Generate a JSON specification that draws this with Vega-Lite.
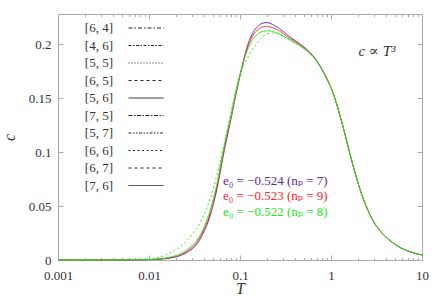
{
  "$schema": "https://vega.github.io/schema/vega-lite/v6.json",
  "width": 364,
  "height": 246,
  "autosize": {"type": "none"},
  "padding": {"left": 58, "top": 14, "right": 14, "bottom": 46},
  "config": {
    "view": {"stroke": "#aaaaaa", "strokeWidth": 1},
    "axis": {
      "domain": false, "grid": false,
      "tickColor": "#aaaaaa",
      "labelFont": "Liberation Serif, DejaVu Serif, serif", "labelFontSize": 13, "labelColor": "#333333",
      "titleFont": "Liberation Serif, DejaVu Serif, serif", "titleFontStyle": "italic", "titleFontWeight": "normal",
      "titleFontSize": 16, "titleColor": "#333333"
    },
    "legend": {
      "labelFont": "Liberation Serif, DejaVu Serif, serif", "labelFontSize": 13, "labelColor": "#333333"
    }
  },
  "datasets": {
    "curves": [
      {"s": "purple", "a": "[7, 6]", "T": 0.001, "c": 0},
      {"s": "purple", "a": "[7, 6]", "T": 0.003, "c": 0},
      {"s": "purple", "a": "[7, 6]", "T": 0.006, "c": 0.0001},
      {"s": "purple", "a": "[7, 6]", "T": 0.01, "c": 0.0003},
      {"s": "purple", "a": "[7, 6]", "T": 0.0132, "c": 0.0008},
      {"s": "purple", "a": "[7, 6]", "T": 0.0175, "c": 0.002},
      {"s": "purple", "a": "[7, 6]", "T": 0.0219, "c": 0.004},
      {"s": "purple", "a": "[7, 6]", "T": 0.027, "c": 0.0078},
      {"s": "purple", "a": "[7, 6]", "T": 0.0334, "c": 0.0145},
      {"s": "purple", "a": "[7, 6]", "T": 0.039, "c": 0.024},
      {"s": "purple", "a": "[7, 6]", "T": 0.0449, "c": 0.036},
      {"s": "purple", "a": "[7, 6]", "T": 0.05, "c": 0.049},
      {"s": "purple", "a": "[7, 6]", "T": 0.0555, "c": 0.065},
      {"s": "purple", "a": "[7, 6]", "T": 0.0667, "c": 0.1},
      {"s": "purple", "a": "[7, 6]", "T": 0.081, "c": 0.134},
      {"s": "purple", "a": "[7, 6]", "T": 0.09, "c": 0.153},
      {"s": "purple", "a": "[7, 6]", "T": 0.104, "c": 0.177},
      {"s": "purple", "a": "[7, 6]", "T": 0.1135, "c": 0.19},
      {"s": "purple", "a": "[7, 6]", "T": 0.125, "c": 0.202},
      {"s": "purple", "a": "[7, 6]", "T": 0.14, "c": 0.211},
      {"s": "purple", "a": "[7, 6]", "T": 0.16, "c": 0.217},
      {"s": "purple", "a": "[7, 6]", "T": 0.18, "c": 0.2195},
      {"s": "purple", "a": "[7, 6]", "T": 0.2, "c": 0.2198},
      {"s": "purple", "a": "[7, 6]", "T": 0.23, "c": 0.218},
      {"s": "purple", "a": "[7, 6]", "T": 0.27, "c": 0.2145},
      {"s": "purple", "a": "[7, 6]", "T": 0.3, "c": 0.2115},
      {"s": "purple", "a": "[7, 6]", "T": 0.354, "c": 0.2065},
      {"s": "purple", "a": "[7, 6]", "T": 0.45, "c": 0.2005},
      {"s": "purple", "a": "[7, 6]", "T": 0.55, "c": 0.1945},
      {"s": "purple", "a": "[7, 6]", "T": 0.65, "c": 0.188},
      {"s": "purple", "a": "[7, 6]", "T": 0.822, "c": 0.1745},
      {"s": "purple", "a": "[7, 6]", "T": 1.06, "c": 0.154},
      {"s": "purple", "a": "[7, 6]", "T": 1.36, "c": 0.123},
      {"s": "purple", "a": "[7, 6]", "T": 1.69, "c": 0.092},
      {"s": "purple", "a": "[7, 6]", "T": 2.17, "c": 0.061},
      {"s": "purple", "a": "[7, 6]", "T": 2.92, "c": 0.036},
      {"s": "purple", "a": "[7, 6]", "T": 3.5, "c": 0.0265},
      {"s": "purple", "a": "[7, 6]", "T": 4.45, "c": 0.018},
      {"s": "purple", "a": "[7, 6]", "T": 5.5, "c": 0.0125},
      {"s": "purple", "a": "[7, 6]", "T": 6.79, "c": 0.0088},
      {"s": "purple", "a": "[7, 6]", "T": 8.3, "c": 0.0063},
      {"s": "purple", "a": "[7, 6]", "T": 10, "c": 0.0046},

      {"s": "red", "a": "[7, 6]", "T": 0.001, "c": 0},
      {"s": "red", "a": "[7, 6]", "T": 0.003, "c": 0},
      {"s": "red", "a": "[7, 6]", "T": 0.006, "c": 0.0001},
      {"s": "red", "a": "[7, 6]", "T": 0.01, "c": 0.0004},
      {"s": "red", "a": "[7, 6]", "T": 0.0132, "c": 0.0009},
      {"s": "red", "a": "[7, 6]", "T": 0.0175, "c": 0.0024},
      {"s": "red", "a": "[7, 6]", "T": 0.0219, "c": 0.0047},
      {"s": "red", "a": "[7, 6]", "T": 0.027, "c": 0.009},
      {"s": "red", "a": "[7, 6]", "T": 0.0334, "c": 0.016},
      {"s": "red", "a": "[7, 6]", "T": 0.039, "c": 0.026},
      {"s": "red", "a": "[7, 6]", "T": 0.0449, "c": 0.038},
      {"s": "red", "a": "[7, 6]", "T": 0.05, "c": 0.051},
      {"s": "red", "a": "[7, 6]", "T": 0.0555, "c": 0.067},
      {"s": "red", "a": "[7, 6]", "T": 0.0667, "c": 0.102},
      {"s": "red", "a": "[7, 6]", "T": 0.081, "c": 0.135},
      {"s": "red", "a": "[7, 6]", "T": 0.09, "c": 0.154},
      {"s": "red", "a": "[7, 6]", "T": 0.104, "c": 0.177},
      {"s": "red", "a": "[7, 6]", "T": 0.1135, "c": 0.189},
      {"s": "red", "a": "[7, 6]", "T": 0.125, "c": 0.2},
      {"s": "red", "a": "[7, 6]", "T": 0.14, "c": 0.2085},
      {"s": "red", "a": "[7, 6]", "T": 0.16, "c": 0.2138},
      {"s": "red", "a": "[7, 6]", "T": 0.18, "c": 0.216},
      {"s": "red", "a": "[7, 6]", "T": 0.2, "c": 0.2163},
      {"s": "red", "a": "[7, 6]", "T": 0.23, "c": 0.215},
      {"s": "red", "a": "[7, 6]", "T": 0.27, "c": 0.2122},
      {"s": "red", "a": "[7, 6]", "T": 0.3, "c": 0.2095},
      {"s": "red", "a": "[7, 6]", "T": 0.354, "c": 0.2052},
      {"s": "red", "a": "[7, 6]", "T": 0.45, "c": 0.1995},
      {"s": "red", "a": "[7, 6]", "T": 0.55, "c": 0.194},
      {"s": "red", "a": "[7, 6]", "T": 0.65, "c": 0.1877},
      {"s": "red", "a": "[7, 6]", "T": 0.822, "c": 0.1743},
      {"s": "red", "a": "[7, 6]", "T": 1.06, "c": 0.154},
      {"s": "red", "a": "[7, 6]", "T": 1.36, "c": 0.123},
      {"s": "red", "a": "[7, 6]", "T": 1.69, "c": 0.092},
      {"s": "red", "a": "[7, 6]", "T": 2.17, "c": 0.061},
      {"s": "red", "a": "[7, 6]", "T": 2.92, "c": 0.036},
      {"s": "red", "a": "[7, 6]", "T": 3.5, "c": 0.0265},
      {"s": "red", "a": "[7, 6]", "T": 4.45, "c": 0.018},
      {"s": "red", "a": "[7, 6]", "T": 5.5, "c": 0.0125},
      {"s": "red", "a": "[7, 6]", "T": 6.79, "c": 0.0088},
      {"s": "red", "a": "[7, 6]", "T": 8.3, "c": 0.0063},
      {"s": "red", "a": "[7, 6]", "T": 10, "c": 0.0046},

      {"s": "greendot", "a": "[6, 6]", "T": 0.001, "c": 0},
      {"s": "greendot", "a": "[6, 6]", "T": 0.003, "c": 0},
      {"s": "greendot", "a": "[6, 6]", "T": 0.006, "c": 0.0002},
      {"s": "greendot", "a": "[6, 6]", "T": 0.01, "c": 0.001},
      {"s": "greendot", "a": "[6, 6]", "T": 0.0135, "c": 0.003},
      {"s": "greendot", "a": "[6, 6]", "T": 0.017, "c": 0.0065},
      {"s": "greendot", "a": "[6, 6]", "T": 0.0238, "c": 0.0145},
      {"s": "greendot", "a": "[6, 6]", "T": 0.03, "c": 0.024},
      {"s": "greendot", "a": "[6, 6]", "T": 0.0362, "c": 0.034},
      {"s": "greendot", "a": "[6, 6]", "T": 0.043, "c": 0.048},
      {"s": "greendot", "a": "[6, 6]", "T": 0.0508, "c": 0.066},
      {"s": "greendot", "a": "[6, 6]", "T": 0.06, "c": 0.09},
      {"s": "greendot", "a": "[6, 6]", "T": 0.07, "c": 0.115},
      {"s": "greendot", "a": "[6, 6]", "T": 0.08, "c": 0.138},
      {"s": "greendot", "a": "[6, 6]", "T": 0.09, "c": 0.157},
      {"s": "greendot", "a": "[6, 6]", "T": 0.1, "c": 0.172},
      {"s": "greendot", "a": "[6, 6]", "T": 0.119, "c": 0.186},
      {"s": "greendot", "a": "[6, 6]", "T": 0.152, "c": 0.2},
      {"s": "greendot", "a": "[6, 6]", "T": 0.196, "c": 0.2092},
      {"s": "greendot", "a": "[6, 6]", "T": 0.23, "c": 0.2102},
      {"s": "greendot", "a": "[6, 6]", "T": 0.28, "c": 0.2082},
      {"s": "greendot", "a": "[6, 6]", "T": 0.354, "c": 0.2035},
      {"s": "greendot", "a": "[6, 6]", "T": 0.45, "c": 0.1985},
      {"s": "greendot", "a": "[6, 6]", "T": 0.55, "c": 0.1932},
      {"s": "greendot", "a": "[6, 6]", "T": 0.65, "c": 0.1872},
      {"s": "greendot", "a": "[6, 6]", "T": 0.822, "c": 0.174},
      {"s": "greendot", "a": "[6, 6]", "T": 1.06, "c": 0.1538},
      {"s": "greendot", "a": "[6, 6]", "T": 1.36, "c": 0.123},
      {"s": "greendot", "a": "[6, 6]", "T": 1.69, "c": 0.092},
      {"s": "greendot", "a": "[6, 6]", "T": 2.17, "c": 0.061},
      {"s": "greendot", "a": "[6, 6]", "T": 2.92, "c": 0.036},
      {"s": "greendot", "a": "[6, 6]", "T": 3.5, "c": 0.0265},
      {"s": "greendot", "a": "[6, 6]", "T": 4.45, "c": 0.018},
      {"s": "greendot", "a": "[6, 6]", "T": 5.5, "c": 0.0125},
      {"s": "greendot", "a": "[6, 6]", "T": 6.79, "c": 0.0088},
      {"s": "greendot", "a": "[6, 6]", "T": 8.3, "c": 0.0063},
      {"s": "greendot", "a": "[6, 6]", "T": 10, "c": 0.0046},

      {"s": "green", "a": "[7, 6]", "T": 0.001, "c": 0},
      {"s": "green", "a": "[7, 6]", "T": 0.003, "c": 0},
      {"s": "green", "a": "[7, 6]", "T": 0.006, "c": 0.0001},
      {"s": "green", "a": "[7, 6]", "T": 0.01, "c": 0.0005},
      {"s": "green", "a": "[7, 6]", "T": 0.0135, "c": 0.0012},
      {"s": "green", "a": "[7, 6]", "T": 0.0175, "c": 0.003},
      {"s": "green", "a": "[7, 6]", "T": 0.0219, "c": 0.0055},
      {"s": "green", "a": "[7, 6]", "T": 0.027, "c": 0.0105},
      {"s": "green", "a": "[7, 6]", "T": 0.0334, "c": 0.018},
      {"s": "green", "a": "[7, 6]", "T": 0.039, "c": 0.028},
      {"s": "green", "a": "[7, 6]", "T": 0.0449, "c": 0.041},
      {"s": "green", "a": "[7, 6]", "T": 0.05, "c": 0.054},
      {"s": "green", "a": "[7, 6]", "T": 0.0555, "c": 0.07},
      {"s": "green", "a": "[7, 6]", "T": 0.0667, "c": 0.105},
      {"s": "green", "a": "[7, 6]", "T": 0.081, "c": 0.137},
      {"s": "green", "a": "[7, 6]", "T": 0.09, "c": 0.155},
      {"s": "green", "a": "[7, 6]", "T": 0.104, "c": 0.177},
      {"s": "green", "a": "[7, 6]", "T": 0.1135, "c": 0.188},
      {"s": "green", "a": "[7, 6]", "T": 0.125, "c": 0.1975},
      {"s": "green", "a": "[7, 6]", "T": 0.14, "c": 0.205},
      {"s": "green", "a": "[7, 6]", "T": 0.16, "c": 0.2098},
      {"s": "green", "a": "[7, 6]", "T": 0.18, "c": 0.2118},
      {"s": "green", "a": "[7, 6]", "T": 0.2, "c": 0.2123},
      {"s": "green", "a": "[7, 6]", "T": 0.23, "c": 0.2115},
      {"s": "green", "a": "[7, 6]", "T": 0.27, "c": 0.2093},
      {"s": "green", "a": "[7, 6]", "T": 0.3, "c": 0.2072},
      {"s": "green", "a": "[7, 6]", "T": 0.354, "c": 0.2038},
      {"s": "green", "a": "[7, 6]", "T": 0.45, "c": 0.1985},
      {"s": "green", "a": "[7, 6]", "T": 0.55, "c": 0.1932},
      {"s": "green", "a": "[7, 6]", "T": 0.65, "c": 0.1872},
      {"s": "green", "a": "[7, 6]", "T": 0.822, "c": 0.174},
      {"s": "green", "a": "[7, 6]", "T": 1.06, "c": 0.1538},
      {"s": "green", "a": "[7, 6]", "T": 1.36, "c": 0.123},
      {"s": "green", "a": "[7, 6]", "T": 1.69, "c": 0.092},
      {"s": "green", "a": "[7, 6]", "T": 2.17, "c": 0.061},
      {"s": "green", "a": "[7, 6]", "T": 2.92, "c": 0.036},
      {"s": "green", "a": "[7, 6]", "T": 3.5, "c": 0.0265},
      {"s": "green", "a": "[7, 6]", "T": 4.45, "c": 0.018},
      {"s": "green", "a": "[7, 6]", "T": 5.5, "c": 0.0125},
      {"s": "green", "a": "[7, 6]", "T": 6.79, "c": 0.0088},
      {"s": "green", "a": "[7, 6]", "T": 8.3, "c": 0.0063},
      {"s": "green", "a": "[7, 6]", "T": 10, "c": 0.0046}
    ],
    "notes": [
      {"T": 0.065, "c": 0.0735, "s": "purple", "label": "e₀ = −0.524 (nₚ = 7)"},
      {"T": 0.065, "c": 0.0595, "s": "red", "label": "e₀ = −0.523 (nₚ = 9)"},
      {"T": 0.065, "c": 0.0445, "s": "green", "label": "e₀ = −0.522 (nₚ = 8)"}
    ],
    "law": [
      {"T": 3.2, "c": 0.194, "label": "c ∝ T³"}
    ]
  },
  "layer": [
    {
      "data": {"name": "curves"},
      "mark": {"type": "line", "interpolate": "monotone"},
      "encoding": {
        "x": {
          "field": "T", "type": "quantitative",
          "scale": {"type": "log", "domain": [0.001, 10], "nice": false},
          "axis": {
            "orient": "bottom", "title": "T",
            "values": [0.001,0.002,0.003,0.004,0.005,0.006,0.007,0.008,0.009,0.01,0.02,0.03,0.04,0.05,0.06,0.07,0.08,0.09,0.1,0.2,0.3,0.4,0.5,0.6,0.7,0.8,0.9,1,2,3,4,5,6,7,8,9,10],
            "labelExpr": "abs(log(datum.value)/LN10 - round(log(datum.value)/LN10)) < 1e-6 ? format(datum.value, '~g') : ''",
            "tickSize": {"condition": {"test": "abs(log(datum.value)/LN10 - round(log(datum.value)/LN10)) < 1e-6", "value": -5}, "value": -2.5},
            "labelPadding": 14, "labelFlush": false, "labelOverlap": false,
            "titleY": 33, "titleBaseline": "alphabetic"
          }
        },
        "y": {
          "field": "c", "type": "quantitative",
          "scale": {"domain": [0, 0.2278], "nice": false, "zero": true},
          "axis": {
            "orient": "left", "title": "c",
            "values": [0, 0.05, 0.1, 0.15, 0.2],
            "labelExpr": "format(datum.value, '~g')",
            "tickSize": -5, "labelPadding": 12, "titlePadding": 11
          }
        },
        "color": {
          "field": "s", "type": "nominal",
          "scale": {"domain": ["purple", "red", "greendot", "green"], "range": ["#5a2a9e", "#ff2222", "#33ee22", "#22e622"]},
          "legend": null
        },
        "strokeDash": {
          "field": "a", "type": "nominal", "title": null,
          "scale": {
            "domain": ["[6, 4]", "[4, 6]", "[5, 5]", "[6, 5]", "[5, 6]", "[7, 5]", "[5, 7]", "[6, 6]", "[6, 7]", "[7, 6]"],
            "range": [[4,2,1.5,2], [3,1.5,1.5,1.5], [1,2], [3,3], [1,0], [4,1.5,1.5,1.5], [3,1.5,1.5,1.5,1.5,1.5], [2,2.5], [3,3], [1,0]]
          },
          "legend": {
            "orient": "none", "legendX": 81.5, "legendY": 7.5,
            "symbolType": "M -3.5 0 L 3.5 0", "symbolSize": 100, "symbolStrokeColor": "#222222",
            "labelAlign": "right", "labelOffset": -39.5, "rowPadding": 3.5, "padding": 0
          }
        },
        "strokeWidth": {
          "field": "a", "type": "nominal", "title": null,
          "scale": {
            "domain": ["[6, 4]", "[4, 6]", "[5, 5]", "[6, 5]", "[5, 6]", "[7, 5]", "[5, 7]", "[6, 6]", "[6, 7]", "[7, 6]"],
            "range": [1, 1, 1, 1, 1, 2, 2, 2, 2, 2]
          }
        }
      }
    },
    {
      "data": {"name": "notes"},
      "mark": {"type": "text", "align": "left", "baseline": "middle", "font": "Liberation Serif, DejaVu Serif, serif", "fontSize": 13},
      "encoding": {
        "x": {"field": "T", "type": "quantitative", "axis": null},
        "y": {"field": "c", "type": "quantitative", "axis": null},
        "text": {"field": "label"},
        "color": {"field": "s", "type": "nominal", "legend": null}
      }
    },
    {
      "data": {"name": "law"},
      "mark": {"type": "text", "align": "center", "baseline": "middle", "font": "Liberation Serif, DejaVu Serif, serif", "fontSize": 15, "fontStyle": "italic", "color": "#333333"},
      "encoding": {
        "x": {"field": "T", "type": "quantitative",
          "axis": {"orient": "top", "title": null, "labels": false,
            "values": [0.001,0.002,0.003,0.004,0.005,0.006,0.007,0.008,0.009,0.01,0.02,0.03,0.04,0.05,0.06,0.07,0.08,0.09,0.1,0.2,0.3,0.4,0.5,0.6,0.7,0.8,0.9,1,2,3,4,5,6,7,8,9,10],
            "tickSize": {"condition": {"test": "abs(log(datum.value)/LN10 - round(log(datum.value)/LN10)) < 1e-6", "value": -5}, "value": -2.5}}},
        "y": {"field": "c", "type": "quantitative",
          "axis": {"orient": "right", "title": null, "labels": false, "values": [0, 0.05, 0.1, 0.15, 0.2], "tickSize": -5}},
        "text": {"field": "label"}
      }
    }
  ],
  "resolve": {"axis": {"x": "independent", "y": "independent"}}
}
